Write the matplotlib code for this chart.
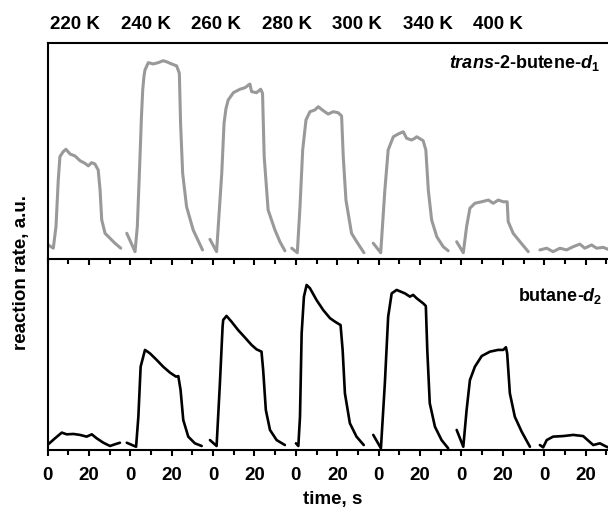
import matplotlib
matplotlib.use('Agg')
import matplotlib.pyplot as plt
import numpy as np

plt.rcParams['font.family'] = ['Liberation Sans', 'DejaVu Sans']
plt.rcParams['font.weight'] = 'bold'
plt.rcParams['mathtext.fontset'] = 'custom'
plt.rcParams['mathtext.rm'] = 'Liberation Sans:bold'
plt.rcParams['mathtext.bf'] = 'Liberation Sans:bold'
plt.rcParams['mathtext.it'] = 'Liberation Sans:italic:bold'

# temperatures, one 40 s window each
temps = ['220 K', '240 K', '260 K', '280 K', '300 K', '340 K', '400 K']
window = 40

# trans-2-butene-d1 (top panel), time in s inside each window
trans_t = [
    [0.4, 2.8, 4.1, 5.2, 6.0, 7.6, 8.9, 10.9, 13.3, 15.7, 18.1, 19.7, 21.3, 22.9,
     24.5, 25.4, 26.2, 27.8, 30.2, 32.6, 35.4],
    [-1.7, 2.3, 3.4, 4.7, 5.4, 6.0, 6.6, 7.1, 8.7, 11.1, 13.5, 15.9, 17.6, 19.2, 22.4,
     23.7, 24.3, 25.3, 27.2, 30.4, 34.9],
    [-1.5, 1.7, 4.2, 5.3, 6.2, 7.3, 9.8, 13.0, 15.4, 17.8, 18.6, 21.0, 23.0, 23.9, 24.7,
     26.6, 29.9, 32.3, 34.7],
    [-2.0, 0.7, 2.0, 3.3, 4.9, 6.8, 9.2, 10.8, 13.2, 15.6, 18.1, 20.5, 22.1, 22.9,
     24.2, 26.9, 29.4, 32.9],
    [-2.6, 1.0, 3.0, 4.6, 7.1, 9.5, 11.9, 13.5, 15.9, 17.5, 18.4, 21.5, 22.8, 24.0,
     25.6, 28.1, 31.2, 33.6],
    [-2.3, 0.9, 2.5, 4.1, 6.5, 9.8, 13.0, 15.4, 17.8, 20.2, 22.1, 22.6, 25.0, 28.3,
     32.3],
    [-2.1, 1.2, 4.3, 7.6, 10.8, 14.0, 17.2, 19.6, 22.9, 25.3, 28.5, 30.8, 33.0],
]
trans_rate = [
    [6.5, 5.0, 15.0, 36.6, 47.4, 49.7, 50.8, 48.6, 47.7, 45.5, 44.3, 43.1, 44.6, 44.0,
     41.2, 31.9, 18.1, 11.9, 9.6, 7.3, 5.0],
    [11.9, 3.4, 15.0, 47.4, 66.0, 78.2, 84.5, 87.5, 90.9, 90.3, 90.9, 91.8, 91.3, 90.6,
     89.4, 86.0, 62.8, 39.7, 24.2, 13.4, 4.2],
    [9.1, 3.4, 39.7, 62.8, 69.5, 73.6, 77.0, 78.6, 79.3, 81.0, 77.5, 77.0, 78.6, 76.7,
     47.4, 22.7, 13.4, 8.0, 3.8],
    [5.0, 2.9, 24.2, 50.5, 64.4, 68.2, 69.0, 70.5, 68.7, 67.1, 68.2, 67.7, 66.2, 47.4,
     27.3, 11.9, 8.0, 2.9],
    [7.3, 2.9, 31.9, 50.5, 56.6, 57.9, 58.9, 55.9, 55.1, 55.9, 56.6, 54.8, 50.5, 31.9,
     18.1, 10.3, 5.7, 3.8],
    [8.0, 2.9, 15.0, 23.5, 25.8, 26.5, 27.3, 25.8, 27.3, 26.5, 26.5, 17.3, 11.9, 8.0,
     3.4],
    [4.2, 5.0, 3.4, 5.0, 4.2, 5.7, 6.9, 5.0, 6.5, 5.0, 5.4, 4.5, 5.0],
]

# butane-d2 (bottom panel)
butane_t = [
    [-0.1, 1.2, 3.6, 6.9, 9.3, 12.5, 15.7, 18.9, 21.4, 23.8, 27.0, 30.2, 32.6, 35.0],
    [-1.7, 2.8, 3.9, 5.0, 7.1, 9.5, 12.8, 15.9, 19.2, 22.1, 23.2, 24.3, 25.6, 28.0,
     31.2, 34.5],
    [-1.5, 1.7, 3.3, 4.6, 4.9, 6.5, 8.9, 12.1, 15.3, 18.6, 21.0, 23.4, 24.2, 25.5,
     27.5, 30.7, 34.7],
    [0.05, 1.2, 2.0, 2.8, 3.9, 5.2, 6.8, 10.0, 13.2, 16.5, 18.9, 21.6, 22.6, 23.7,
     26.1, 29.3, 32.8],
    [-2.6, 1.1, 3.0, 4.6, 6.3, 8.7, 12.7, 15.1, 16.7, 18.4, 21.5, 22.8, 23.5, 24.7,
     27.2, 30.4, 33.6],
    [-2.3, 0.9, 2.5, 4.1, 6.5, 9.8, 13.8, 17.7, 20.2, 21.5, 22.1, 23.4, 25.8, 29.1,
     33.1],
    [-2.1, -0.5, 1.2, 4.3, 9.2, 14.0, 18.8, 21.3, 23.7, 26.9, 29.4, 30.8],
]
butane_rate = [
    [2.6, 3.8, 6.1, 9.1, 8.2, 8.4, 7.9, 7.0, 8.2, 6.1, 3.8, 2.1, 3.0, 3.8],
    [3.8, 1.7, 17.4, 43.6, 52.4, 50.6, 47.1, 43.6, 40.5, 38.4, 38.7, 31.4, 15.7, 7.0,
     3.5, 2.1],
    [5.2, 2.1, 34.9, 64.6, 68.1, 70.2, 67.2, 62.8, 59.0, 55.0, 52.7, 51.5, 41.9, 20.9,
     10.5, 5.2, 2.6],
    [3.5, 2.1, 17.4, 61.1, 80.3, 86.4, 84.7, 78.5, 73.3, 69.0, 67.2, 65.4, 52.4, 29.7,
     14.0, 7.0, 2.6],
    [7.9, 0.9, 34.9, 69.8, 82.0, 83.8, 82.0, 80.3, 81.2, 79.4, 76.8, 75.4, 52.4, 24.5,
     12.2, 5.2, 0.9],
    [10.5, 1.7, 20.9, 36.6, 43.6, 49.2, 51.5, 52.4, 52.4, 53.8, 50.6, 29.7, 17.4, 9.6,
     1.7],
    [2.6, 1.4, 5.2, 7.0, 7.3, 7.9, 7.3, 4.9, 2.6, 3.5, 2.1, 1.4],
]

W, H = 608, 509
fig = plt.figure(figsize=(W / 100, H / 100), dpi=100)

x_left, x_right = 47.5, 627.0
y_top, y_mid, y_bot = 43.0, 259.0, 450.0
ax_top = fig.add_axes([x_left / W, (H - y_mid) / H, (x_right - x_left) / W, (y_mid - y_top) / H])
ax_bot = fig.add_axes([x_left / W, (H - y_bot) / H, (x_right - x_left) / W, (y_bot - y_mid) / H],
                      sharex=ax_top)
# top panel on top so its outward ticks show over the lower panel
ax_top.set_zorder(2)
ax_top.patch.set_alpha(0)

for i in range(len(temps)):
    off = i * window
    ax_top.plot(np.array(trans_t[i]) + off, trans_rate[i], color='#999999', lw=2.2,
                solid_joinstyle='round', solid_capstyle='round')
    ax_bot.plot(np.array(butane_t[i]) + off, butane_rate[i], color='black', lw=1.9,
                solid_joinstyle='round', solid_capstyle='round')

n = len(temps)
major = [k * window + s for k in range(n) for s in (0, 20)]
minor = [k * window + s for k in range(n) for s in (10, 30)]
labels = ['0', '20'] * n

for ax in (ax_top, ax_bot):
    ax.set_xlim(0, n * window)
    ax.set_ylim(0, 100)
    ax.set_yticks([])
    ax.spines['right'].set_visible(False)
    for s in ('left', 'top', 'bottom'):
        ax.spines[s].set_linewidth(1.5)

ax_top.set_xticks(major)
ax_top.set_xticks(minor, minor=True)
ax_top.tick_params(axis='x', which='both', direction='out', width=1.5, labelbottom=False)
ax_top.tick_params(axis='x', which='major', length=4.5)
ax_top.tick_params(axis='x', which='minor', length=3.5)

ax_bot.set_xticks(major)
ax_bot.set_xticklabels(labels)
ax_bot.set_xticks(minor, minor=True)
ax_bot.tick_params(axis='x', which='both', direction='out', width=1.5, top=False)
ax_bot.tick_params(axis='x', which='major', length=4.5, pad=8, labelsize=13.5)
ax_bot.tick_params(axis='x', which='minor', length=3.5)
ax_bot.spines['top'].set_visible(False)

for i, t in enumerate(temps):
    fig.text((75 + 70.5 * i) / W, (H - 29.3) / H, t, ha='center', va='baseline',
             fontsize=13.5, fontweight='bold')

fig.text(600 / W, (H - 68) / H, r'$\mathit{trans}$-2-butene-$\mathit{d}_\mathit{1}$',
         ha='right', va='baseline', fontsize=13, fontweight='bold')
fig.text(602 / W, (H - 301.5) / H, r'butane-$\mathit{d}_\mathit{2}$',
         ha='right', va='baseline', fontsize=13, fontweight='bold')

fig.text(333 / W, (H - 504) / H, 'time, s', ha='center', va='baseline',
         fontsize=13.5, fontweight='bold')
fig.text(21.5 / W, (H - 272) / H, 'reaction rate, a.u.', ha='center', va='center',
         rotation=90, fontsize=13.5, fontweight='bold')

fig.savefig('out.png', dpi=100)
